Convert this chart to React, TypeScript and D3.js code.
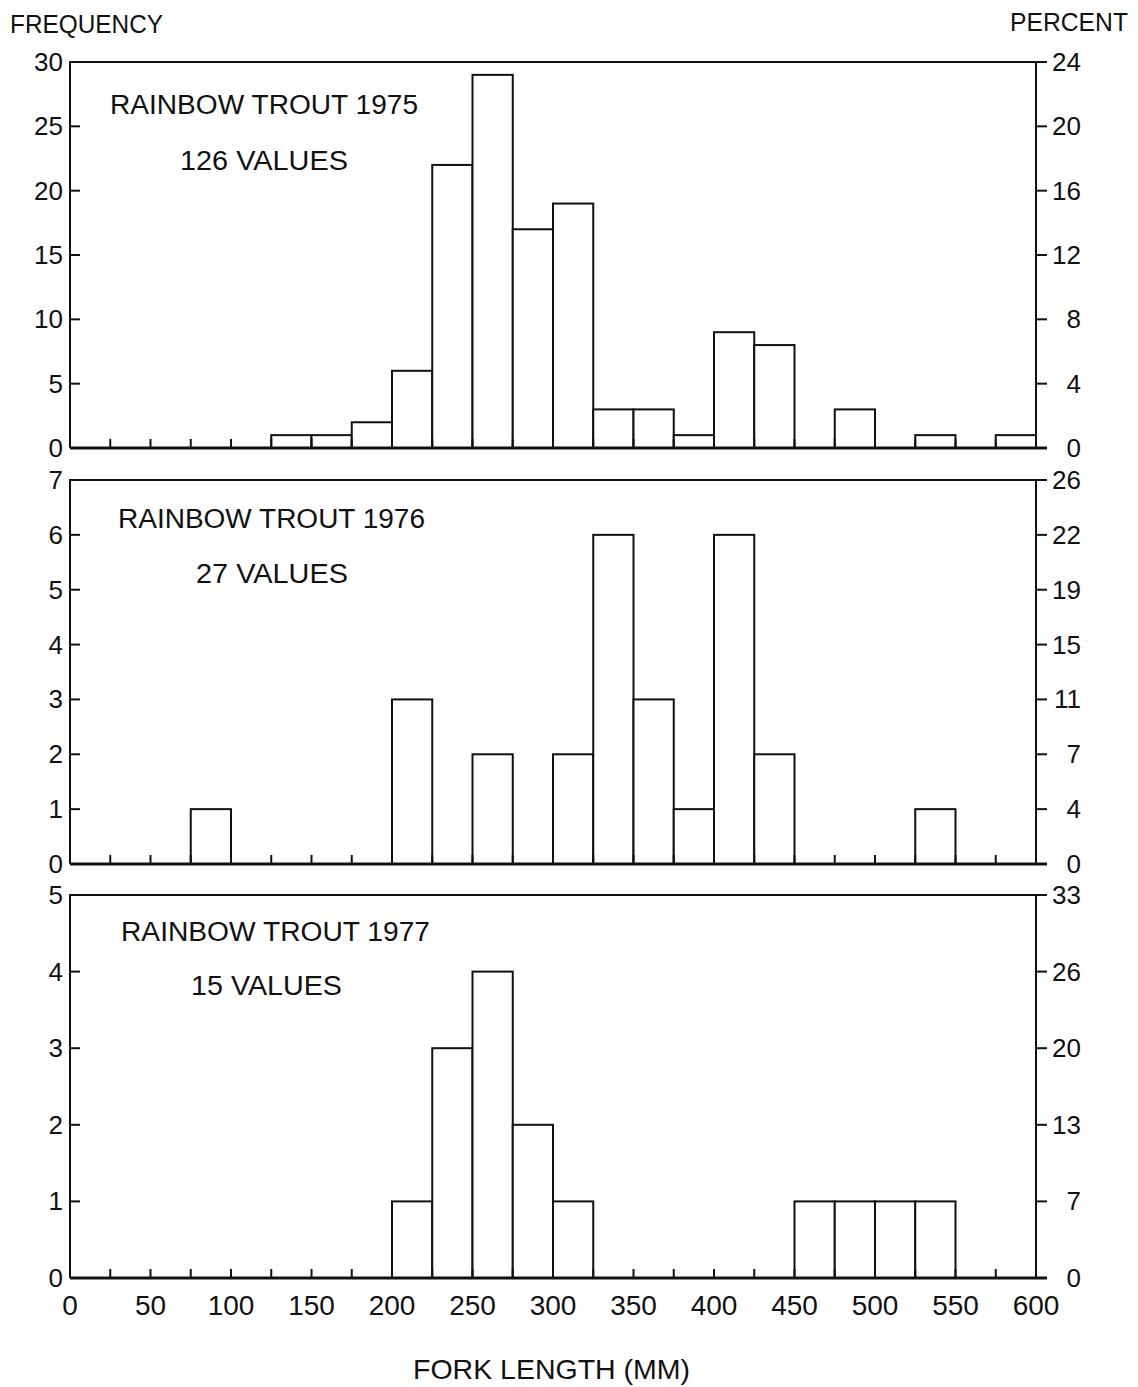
import React from "react";
import * as d3 from "d3";

// ---------- data ----------
const binStarts = [0, 25, 50, 75, 100, 125, 150, 175, 200, 225, 250, 275, 300, 325, 350, 375, 400, 425, 450, 475, 500, 525, 550, 575];
const binWidth = 25;
const counts1975 = [0, 0, 0, 0, 0, 1, 1, 2, 6, 22, 29, 17, 19, 3, 3, 1, 9, 8, 0, 3, 0, 1, 0, 1];
const counts1976 = [0, 0, 0, 1, 0, 0, 0, 0, 3, 0, 2, 0, 2, 6, 3, 1, 6, 2, 0, 0, 0, 1, 0, 0];
const counts1977 = [0, 0, 0, 0, 0, 0, 0, 0, 1, 3, 4, 2, 1, 0, 0, 0, 0, 0, 1, 1, 1, 1, 0, 0];
const titles = ["RAINBOW TROUT 1975", "RAINBOW TROUT 1976", "RAINBOW TROUT 1977"];
const valueLabels = ["126 VALUES", "27 VALUES", "15 VALUES"];
const freqTicks1975 = [0, 5, 10, 15, 20, 25, 30];
const freqTicks1976 = [0, 1, 2, 3, 4, 5, 6, 7];
const freqTicks1977 = [0, 1, 2, 3, 4, 5];
const pctLabels1975 = ["0", "4", "8", "12", "16", "20", "24"];
const pctLabels1976 = ["0", "4", "7", "11", "15", "19", "22", "26"];
const pctLabels1977 = ["0", "7", "13", "20", "26", "33"];
const xTicksMinor = d3.range(0, 601, 25);
const xTickLabels = [0, 50, 100, 150, 200, 250, 300, 350, 400, 450, 500, 550, 600];

const panelsData = [
  { counts: counts1975, ticks: freqTicks1975, pct: pctLabels1975, title: titles[0], values: valueLabels[0] },
  { counts: counts1976, ticks: freqTicks1976, pct: pctLabels1976, title: titles[1], values: valueLabels[1] },
  { counts: counts1977, ticks: freqTicks1977, pct: pctLabels1977, title: titles[2], values: valueLabels[2] },
];

// ---------- layout ----------
const W = 1138;
const H = 1387;
const X0 = 70;
const X1 = 1036;
const panelLayout = [
  { top: 62, bottom: 448, tx: 110, tw: 308, ty: 114, vx: 180, vw: 168, vy: 170 },
  { top: 480, bottom: 864, tx: 118, tw: 307, ty: 528, vx: 196, vw: 152, vy: 583 },
  { top: 895, bottom: 1278, tx: 121, tw: 309, ty: 941, vx: 191, vw: 151, vy: 995 },
];
const FONT = "'Liberation Sans Narrow', 'Liberation Sans', Arial, sans-serif";
const INK = "#111";

const x = d3.scaleLinear().domain([0, 600]).range([X0, X1]);

function Panel({ d, l, last }) {
  const yMax = d.ticks[d.ticks.length - 1];
  const y = d3.scaleLinear().domain([0, yMax]).range([l.bottom, l.top]);
  const bars = binStarts
    .map((s, i) => ({ s, c: d.counts[i] }))
    .filter((b) => b.c > 0);
  return (
    <g>
      {/* bars */}
      {bars.map((b, i) => (
        <rect
          key={i}
          x={x(b.s)}
          y={y(b.c)}
          width={x(b.s + binWidth) - x(b.s)}
          height={y(0) - y(b.c)}
          fill="white"
          stroke={INK}
          strokeWidth={2}
        />
      ))}
      {/* frame: left, top, right */}
      <path
        d={`M${X0},${l.bottom} L${X0},${l.top} L${X1},${l.top} L${X1},${l.bottom}`}
        fill="none"
        stroke={INK}
        strokeWidth={2}
      />
      {/* x axis */}
      <line x1={X0} x2={X1 + 11} y1={l.bottom} y2={l.bottom} stroke={INK} strokeWidth={3} />
      {xTicksMinor.map((t) => (
        <line key={t} x1={x(t)} x2={x(t)} y1={l.bottom} y2={l.bottom - 9} stroke={INK} strokeWidth={2} />
      ))}
      {/* left ticks + labels */}
      {d.ticks.map((t) => (
        <g key={"l" + t}>
          <line x1={X0} x2={X0 + 10} y1={y(t)} y2={y(t)} stroke={INK} strokeWidth={2} />
          <text
            x={X0 - 7}
            y={y(t) + 9}
            textAnchor="end"
            fontFamily={FONT}
            fontSize={26}
            fill={INK}
          >
            {t}
          </text>
        </g>
      ))}
      {/* right ticks + labels */}
      {d.ticks.map((t, i) => (
        <g key={"r" + t}>
          <line x1={X1} x2={X1 + 11} y1={y(t)} y2={y(t)} stroke={INK} strokeWidth={2} />
          <text
            x={1081}
            y={y(t) + 9}
            textAnchor="end"
            fontFamily={FONT}
            fontSize={26}
            fill={INK}
          >
            {d.pct[i]}
          </text>
        </g>
      ))}
      {/* titles */}
      <text x={l.tx} y={l.ty} textLength={l.tw} lengthAdjust="spacingAndGlyphs" fontFamily={FONT} fontSize={27} fill={INK}>
        {d.title}
      </text>
      <text x={l.vx} y={l.vy} textLength={l.vw} lengthAdjust="spacingAndGlyphs" fontFamily={FONT} fontSize={27} fill={INK}>
        {d.values}
      </text>
      {last &&
        xTickLabels.map((t) => (
          <text key={"x" + t} x={x(t)} y={l.bottom + 37} textAnchor="middle" fontFamily={FONT} fontSize={28} fill={INK}>
            {t}
          </text>
        ))}
    </g>
  );
}

export default function App() {
  return (
    <svg
      width={W}
      height={H}
      viewBox={`0 0 ${W} ${H}`}
      style={{ position: "absolute", left: 0, top: 0, background: "white" }}
    >
      <rect width={W} height={H} fill="white" />
      <text x={10} y={33} textLength={153} lengthAdjust="spacingAndGlyphs" fontFamily={FONT} fontSize={26} fill={INK}>
        FREQUENCY
      </text>
      <text x={1010} y={31} textLength={118} lengthAdjust="spacingAndGlyphs" fontFamily={FONT} fontSize={26} fill={INK}>
        PERCENT
      </text>
      {panelsData.map((d, i) => (
        <Panel key={i} d={d} l={panelLayout[i]} last={i === panelsData.length - 1} />
      ))}
      <text x={413} y={1379} textLength={277} lengthAdjust="spacingAndGlyphs" fontFamily={FONT} fontSize={28} fill={INK}>
        FORK LENGTH (MM)
      </text>
    </svg>
  );
}
